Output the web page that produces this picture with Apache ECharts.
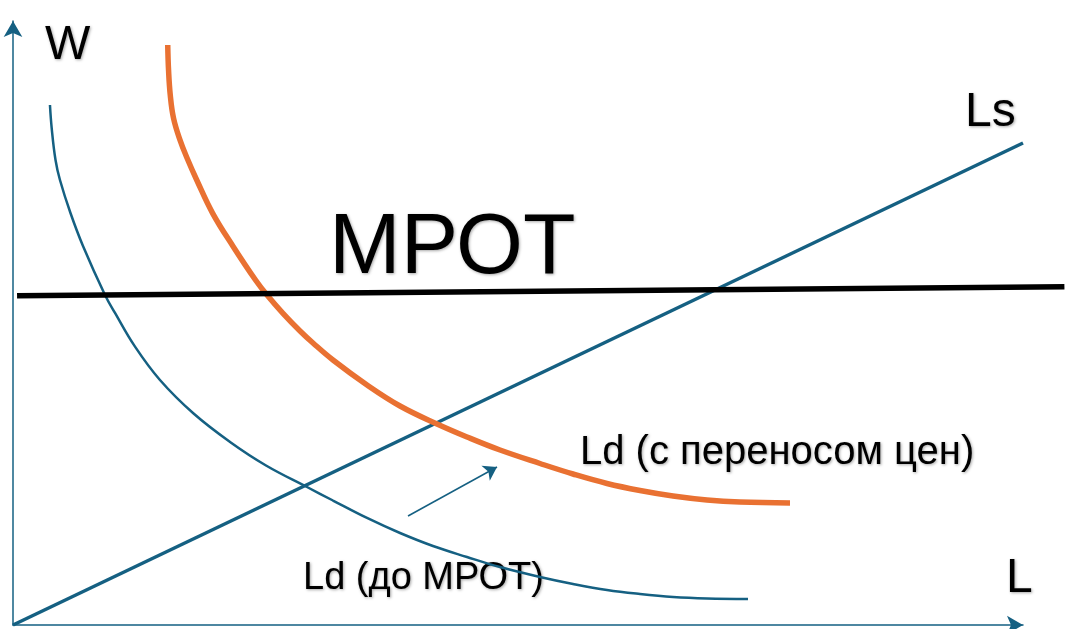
<!DOCTYPE html>
<html>
<head>
<meta charset="utf-8">
<script src="https://cdn.jsdelivr.net/npm/echarts@6/dist/echarts.min.js"></script>
<style>html,body{margin:0;padding:0;background:#fff;}#c{width:1065px;height:629px;}</style>
</head>
<body>
<div id="c"></div>
<script>
// Labour demand before the minimum wage (L, W)
const ldBefore = [[3.66,86.09],[3.83,82.28],[4.21,76.99],[4.65,73.68],[5.69,68.21],[6.93,62.75],[9.11,54.64],[10.10,51.66],[12.08,46.08],[14.55,40.56],[17.85,35.05],[21.49,30.30],[25.05,26.41],[29.11,22.85],[31.68,20.61],[35.05,17.72],[38.32,15.23],[41.58,13.08],[44.95,11.26],[48.22,9.60],[52.18,7.95],[55.45,6.79],[58.81,5.79],[62.08,5.13],[65.35,4.64],[68.71,4.39],[72.77,4.30]];
// Labour demand with cost pass-through to prices
const ldPassThrough = [[15.32,96.03],[15.40,91.89],[15.57,87.75],[15.89,83.94],[16.53,80.30],[17.23,77.32],[18.19,73.68],[19.77,68.16],[21.81,62.63],[24.01,57.12],[25.15,54.64],[26.73,51.61],[28.42,48.68],[29.70,46.69],[31.68,43.87],[35.05,39.74],[38.32,36.26],[41.98,33.28],[44.95,31.13],[48.22,28.97],[52.18,26.74],[55.45,25.00],[58.81,23.43],[62.08,22.27],[65.35,21.36],[68.71,20.70],[71.98,20.36],[76.93,20.20]];
// Labour supply
const ls = [[0,0],[100,79.8]];
// Minimum wage level
const mrot = [[0.4,54.5],[104.1,56.0]];
// Shift arrow
const shift = [[39.11,18.05],[47.92,26.16]];

const blue = '#156082', orange = '#E97132';
const txtShadow = {textShadowColor:'rgba(0,0,0,0.35)', textShadowBlur:3, textShadowOffsetX:1, textShadowOffsetY:1};
function label(text, x, y, size) {
  return {type:'text', x:x, y:y, silent:true,
    style:Object.assign({text:text, fill:'#000', font:size+'px "Liberation Sans", Arial, sans-serif', align:'left', verticalAlign:'middle'}, txtShadow)};
}
const hidden = {splitLine:{show:false}, axisTick:{show:false}, axisLabel:{show:false}, axisLine:{show:false}};
const shown = {splitLine:{show:false}, axisTick:{show:false}, axisLabel:{show:false},
  axisLine:{show:true, onZero:false, symbol:['none','arrow'], symbolSize:[14,16], lineStyle:{color:blue, width:1.5}}};

const chart = echarts.init(document.getElementById('c'), null, {renderer:'canvas'});
chart.setOption({
  animation:false,
  backgroundColor:'#fff',
  grid:[
    {left:13, right:42, top:21, bottom:4},
    {left:13, right:0, top:21, bottom:4}
  ],
  xAxis:[
    Object.assign({type:'value', min:0, max:100, gridIndex:0}, shown),
    Object.assign({type:'value', min:0, max:104.158, gridIndex:1}, hidden)
  ],
  yAxis:[
    Object.assign({type:'value', min:0, max:100, gridIndex:0}, shown),
    Object.assign({type:'value', min:0, max:100, gridIndex:1}, hidden)
  ],
  series:[
    {type:'line', name:'Ld (до МРОТ)', xAxisIndex:1, yAxisIndex:1, data:ldBefore, smooth:0.4, showSymbol:false, clip:false, lineStyle:{color:blue, width:2.5}},
    {type:'line', name:'Ls', xAxisIndex:1, yAxisIndex:1, data:ls, showSymbol:false, clip:false, lineStyle:{color:blue, width:3.5}},
    {type:'line', name:'Ld (с переносом цен)', xAxisIndex:1, yAxisIndex:1, data:ldPassThrough, smooth:0.4, showSymbol:false, clip:false, lineStyle:{color:orange, width:5.5}},
    {type:'line', name:'МРОТ', xAxisIndex:1, yAxisIndex:1, data:mrot, showSymbol:false, clip:false, lineStyle:{color:'#000', width:5.5}},
    {type:'lines', coordinateSystem:'cartesian2d', xAxisIndex:1, yAxisIndex:1, clip:false, symbol:['none','arrow'], symbolSize:13,
      lineStyle:{color:blue, width:1.5, opacity:1}, data:[{coords:shift}]}
  ],
  graphic:[
    label('W', 45, 46, 48),
    label('Ls', 965, 113, 48),
    label('МРОТ', 329, 249, 86),
    label('Ld (с переносом цен)', 580, 453, 40),
    label('Ld (до МРОТ)', 303, 579, 38),
    label('L', 1006, 579, 48)
  ]
});
</script>
</body>
</html>
